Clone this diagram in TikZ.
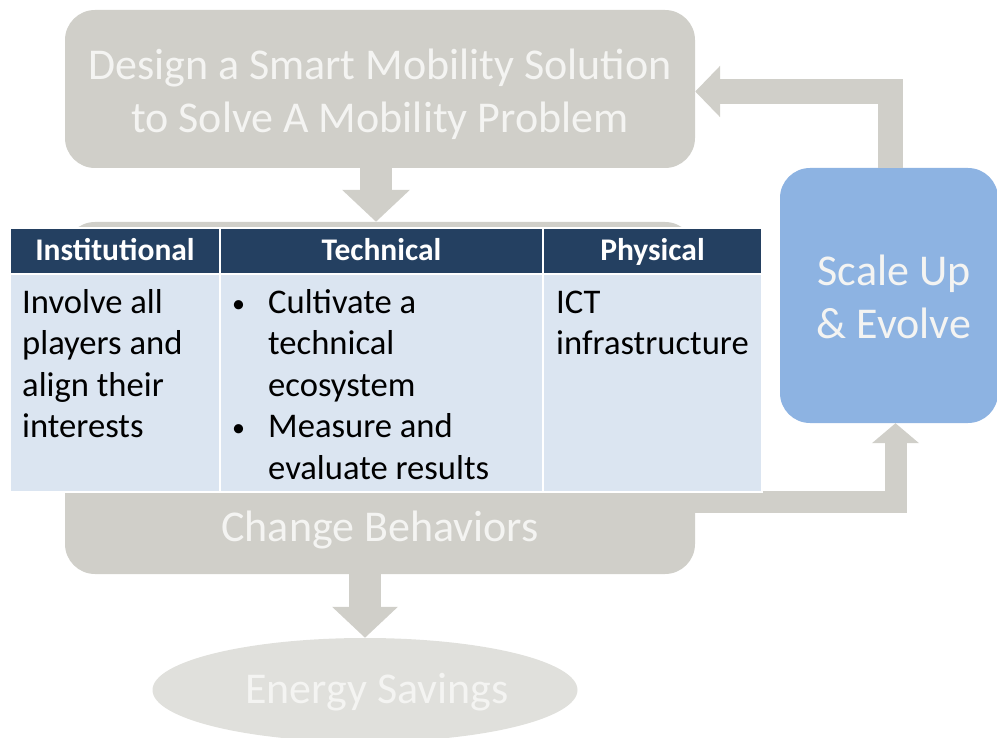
\documentclass[tikz,border=0pt]{standalone}
\usepackage{fontspec}
\setmainfont{Carlito}
\usetikzlibrary{arrows.meta,shapes.geometric}
\definecolor{boxgray}{RGB}{208,207,201}
\definecolor{ellgray}{RGB}{224,224,220}
\definecolor{lighttext}{RGB}{244,244,242}
\definecolor{bluebox}{RGB}{141,179,226}
\definecolor{navy}{RGB}{36,64,97}
\definecolor{bodyblue}{RGB}{219,229,241}
\newcommand{\smallbul}{\makebox[38pt][l]{\hspace{2pt}\raisebox{1pt}{\fontsize{26}{26}\selectfont •}}}
\tikzset{
  graybox/.style={fill=boxgray, draw=none, rounded corners=30pt, inner sep=0pt},
  bigtext/.style={text=lighttext, font=\fontsize{44}{53}\selectfont, align=center, inner sep=0pt},
  blockarrow/.style={draw=boxgray, line join=miter},
  headcell/.style={fill=navy, draw=white, line width=1.5pt, text=white, font=\fontsize{31.5}{36}\selectfont\bfseries, inner sep=0pt, text height=26pt, text depth=6pt},
  bodycell/.style={fill=bodyblue, draw=white, line width=1.5pt, inner sep=0pt},
  celltext/.style={font=\fontsize{34.6}{41.5}\selectfont, align=left, anchor=north west, inner sep=0pt, text=black},
}
\begin{document}
\begin{tikzpicture}[x=1pt,y=-1pt]
\useasboundingbox (0,0) rectangle (997,738);
% boxes
\node[graybox, minimum width=630pt, minimum height=158pt] (design) at (380,89) {};
\node[bigtext] (designtext) at (380,94) {Design a Smart Mobility Solution\\to Solve A Mobility Problem};
\node[graybox, minimum width=630pt, minimum height=352pt] (change) at (380,398) {};
\node[bigtext] (changetext) at (380,530) {Change Behaviors};
\node[fill=bluebox, draw=none, rounded corners=30pt, minimum width=218pt, minimum height=255pt, inner sep=0pt] (scale) at (889,295.5) {};
\node[bigtext] (scaletext) at (894,297) {Scale Up\\\& Evolve};
\node[ellipse, fill=ellgray, draw=none, minimum width=425pt, minimum height=104pt, inner sep=0pt] (energy) at (365,690) {};
\node[bigtext] (energytext) at (377,692) {Energy Savings};
% arrows
\draw[blockarrow, line width=32pt, -{Triangle[length=32pt,width=66pt]}]
  ([xshift=-4pt]design.south) -- ([xshift=-4pt]change.north);
\draw[blockarrow, line width=32pt, -{Triangle[length=31pt,width=64pt]}]
  (energy.north |- change.south) -- (energy.north);
\draw[blockarrow, line width=25pt, -{Triangle[length=25pt,width=50pt]}]
  ([xshift=1.5pt]scale.north) |- ([yshift=-2.5pt]design.east);
\draw[blockarrow, line width=22pt, -{Triangle[length=20pt,width=46pt]}]
  ([yshift=-104pt]change.east) -| ([xshift=6.5pt]scale.south);
% table
\node[headcell, minimum width=210pt, minimum height=46pt] (h1) at (115,251) {Institutional};
\node[headcell, minimum width=323pt, minimum height=46pt] (h2) at (381.5,251) {Technical};
\node[headcell, minimum width=219pt, minimum height=46pt] (h3) at (652.5,251) {Physical};
\node[bodycell, minimum width=210pt, minimum height=218pt] (b1) at (115,383) {};
\node[bodycell, minimum width=323pt, minimum height=218pt] (b2) at (381.5,383) {};
\node[bodycell, minimum width=219pt, minimum height=218pt] (b3) at (652.5,383) {};
\node[celltext] (t1) at (22,284) {\strut Involve all\\players and\\align their\\interests};
\node[celltext] (t2) at (230,284) {\strut\smallbul Cultivate a\\\hspace*{38pt}technical\\\hspace*{38pt}ecosystem\\\smallbul Measure and\\\hspace*{38pt}evaluate results};
\node[celltext] (t3) at (556,284) {\strut ICT\\infrastructure};
\end{tikzpicture}
\end{document}
